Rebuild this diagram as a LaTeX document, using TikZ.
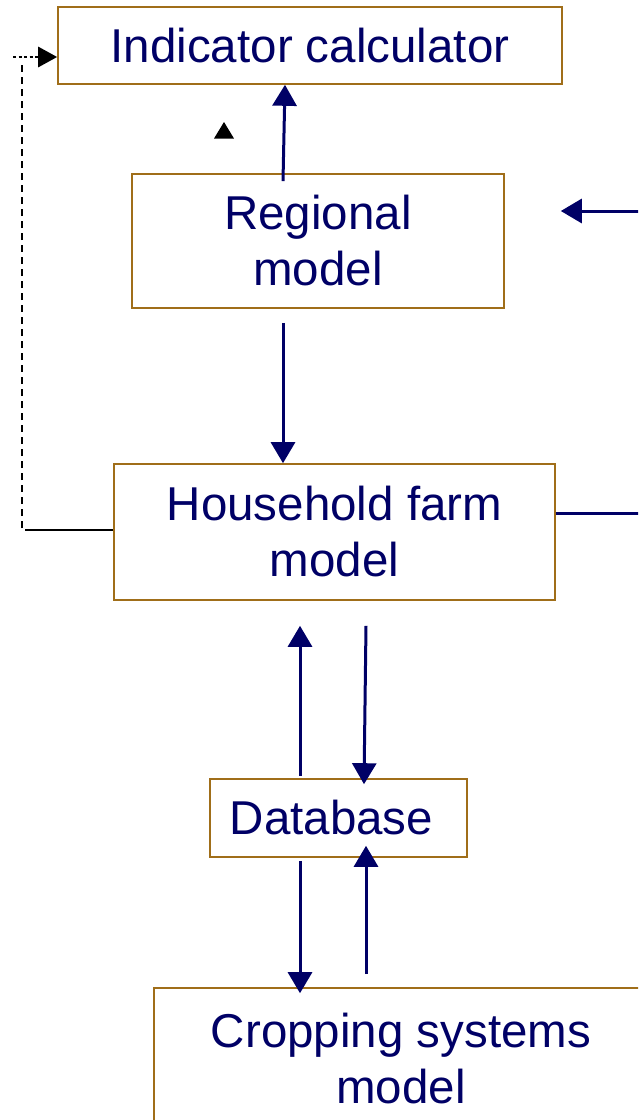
\documentclass[tikz,border=0pt]{standalone}
\usepackage{fontspec}
\setmainfont{Liberation Sans}
\usetikzlibrary{arrows.meta}
\definecolor{navy}{RGB}{0,0,102}
\definecolor{boxbrown}{RGB}{160,110,25}
\begin{document}
\begin{tikzpicture}[x=1pt,y=-1pt,
  box/.style={draw=boxbrown,line width=1.6pt,inner sep=0pt,align=center,text=navy,
    font=\fontsize{47.5}{56}\selectfont},
  arr/.style={draw=navy,line width=3pt,-{Triangle[width=24pt,length=21pt]}},
  plain/.style={draw=navy,line width=3pt},
  blk/.style={draw=black,line width=1.6pt}]
\useasboundingbox (0,0) rectangle (638,1120);
\clip (0,0) rectangle (638,1120);
\node[box,minimum width=504pt,minimum height=77pt] (ind) at (310,45.5) {Indicator calculator};
\node[box,minimum width=372pt,minimum height=134pt] (reg) at (318,241) {Regional\\model};
\node[box,minimum width=441pt,minimum height=136pt] (hh) at (334.5,532) {Household farm\\model};
\node[box,minimum width=257pt,minimum height=78pt] (db) at (338.5,818) {Database\hspace{14pt}};
\node[box,minimum width=494pt,minimum height=142pt] (crop) at (401,1059) {Cropping systems\\model};
% small triangle
\fill[black] (224,122) -- (234,138.5) -- (214,138.5) -- cycle;
% arrows
\draw[arr] ([xshift=-35pt,yshift=-8pt]reg.north) -- ([xshift=-25pt]ind.south);
\draw[arr] ([xshift=-35pt,yshift=-14pt]reg.south) -- ([xshift=-51.5pt]hh.north);
\coordinate (rin) at (640,211);
\draw[arr] (rin) -- ([xshift=56pt,yshift=30pt]reg.east);
\coordinate (rout) at (640,513);
\draw[plain] ([yshift=19pt]hh.east) -- (rout);
\draw[arr] ([xshift=-38.5pt,yshift=2pt]db.north) -- ([xshift=-34.5pt,yshift=-25pt]hh.south);
\draw[arr] ([xshift=31.5pt,yshift=-25pt]hh.south) -- ([xshift=25.5pt,yshift=-6pt]db.north);
\draw[arr] ([xshift=-38.5pt,yshift=-3pt]db.south) -- ([xshift=-101pt,yshift=-6pt]crop.north);
\draw[arr] ([xshift=-35pt,yshift=13pt]crop.north) -- ([xshift=27.5pt,yshift=12pt]db.south);
% black feedback connector
\coordinate (c1) at (25,530);
\coordinate (c2) at (22,528);
\coordinate (c3) at (22,62);
\coordinate (c4) at (13,57);
\draw[blk,line width=2pt] ([yshift=2pt]hh.west) -- (c1);
\draw[blk,line width=2.5pt,dash pattern=on 7pt off 5pt] (c2) -- (c3);
\draw[blk,line width=2.8pt,dash pattern=on 3pt off 2.5pt,-{Triangle[width=20pt,length=19pt]}] (c4) -- ([yshift=-11.5pt]ind.west);
\end{tikzpicture}
\end{document}
